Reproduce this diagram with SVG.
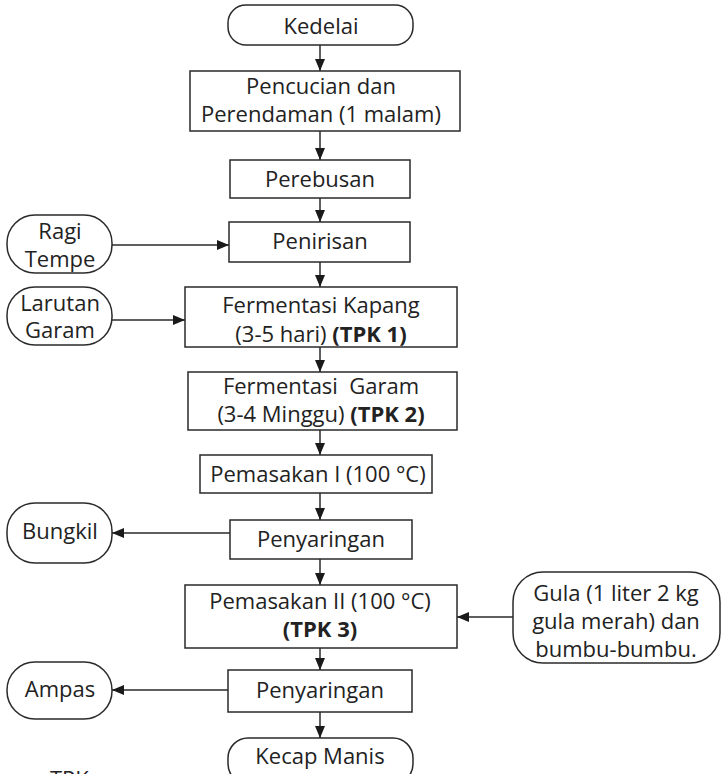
<svg xmlns="http://www.w3.org/2000/svg" width="722" height="774" viewBox="0 0 722 774">
<defs>
<style>
.box{fill:#fff;stroke:#2a2a2a;stroke-width:1.5}
.t{font-family:"Open Sans","Noto Sans",sans-serif;font-size:22px;fill:#222;text-anchor:middle}
.b{font-weight:bold}
.c{stroke:#2a2a2a;stroke-width:1.5;fill:none}
</style>
<marker id="ah" viewBox="0 0 12 10" refX="12" refY="5" markerWidth="12" markerHeight="10" markerUnits="userSpaceOnUse" orient="auto">
<path d="M0,0 L12,5 L0,10 Z" fill="#1a1a1a"/>
</marker>
</defs>
<rect width="722" height="774" fill="#fff"/>
<g id="connectors">
<line class="c" x1="320" y1="45" x2="320" y2="71" marker-end="url(#ah)"/>
<line class="c" x1="320" y1="131" x2="320" y2="160" marker-end="url(#ah)"/>
<line class="c" x1="320" y1="198" x2="320" y2="222" marker-end="url(#ah)"/>
<line class="c" x1="320" y1="262" x2="320" y2="287" marker-end="url(#ah)"/>
<line class="c" x1="320" y1="347" x2="320" y2="372" marker-end="url(#ah)"/>
<line class="c" x1="320" y1="430" x2="320" y2="455" marker-end="url(#ah)"/>
<line class="c" x1="320" y1="493" x2="320" y2="520" marker-end="url(#ah)"/>
<line class="c" x1="320" y1="559" x2="320" y2="585" marker-end="url(#ah)"/>
<line class="c" x1="320" y1="648" x2="320" y2="670" marker-end="url(#ah)"/>
<line class="c" x1="320" y1="712" x2="320" y2="738" marker-end="url(#ah)"/>
<line class="c" x1="112" y1="245" x2="229" y2="245" marker-end="url(#ah)"/>
<line class="c" x1="112" y1="320" x2="185" y2="320" marker-end="url(#ah)"/>
<line class="c" x1="230" y1="533" x2="112" y2="533" marker-end="url(#ah)"/>
<line class="c" x1="513" y1="617" x2="457" y2="617" marker-end="url(#ah)"/>
<line class="c" x1="228" y1="690" x2="112" y2="690" marker-end="url(#ah)"/>
</g>
<g id="kedelai"><rect class="box" x="228" y="5" width="185" height="40" rx="18"/><text class="t" x="321" y="34">Kedelai</text></g>
<g id="pencucian"><rect class="box" x="190" y="71" width="270" height="60"/><text class="t" x="321" y="94">Pencucian dan</text><text class="t" x="321" y="122">Perendaman (1 malam)</text></g>
<g id="perebusan"><rect class="box" x="230" y="160" width="180" height="38"/><text class="t" x="320" y="187">Perebusan</text></g>
<g id="penirisan"><rect class="box" x="229" y="222" width="181" height="40"/><text class="t" x="320" y="249">Penirisan</text></g>
<g id="ragi"><rect class="box" x="7" y="215" width="105" height="58" rx="28"/><text class="t" x="60" y="239">Ragi</text><text class="t" x="60" y="267">Tempe</text></g>
<g id="fermkapang"><rect class="box" x="185" y="287" width="272" height="60"/><text class="t" x="321" y="313">Fermentasi Kapang</text><text class="t" x="321" y="342">(3-5 hari) <tspan class="b">(TPK 1)</tspan></text></g>
<g id="larutan"><rect class="box" x="7" y="287" width="105" height="58" rx="28"/><text class="t" x="60" y="311">Larutan</text><text class="t" x="60" y="338">Garam</text></g>
<g id="fermgaram"><rect class="box" x="188" y="372" width="269" height="58"/><text class="t" x="321" y="394" xml:space="preserve">Fermentasi  Garam</text><text class="t" x="321" y="422">(3-4 Minggu) <tspan class="b">(TPK 2)</tspan></text></g>
<g id="pemasakan1"><rect class="box" x="200" y="455" width="232" height="38"/><text class="t" x="318" y="482">Pemasakan I (100 °C)</text></g>
<g id="penyaringan1"><rect class="box" x="230" y="520" width="182" height="39"/><text class="t" x="321" y="547">Penyaringan</text></g>
<g id="bungkil"><rect class="box" x="7" y="503" width="105" height="60" rx="28"/><text class="t" x="60" y="539">Bungkil</text></g>
<g id="pemasakan2"><rect class="box" x="185" y="585" width="272" height="63"/><text class="t" x="320" y="609">Pemasakan II (100 °C)</text><text class="t b" x="320" y="637">(TPK 3)</text></g>
<g id="gula"><rect class="box" x="513" y="572" width="207" height="91" rx="30"/><text class="t" x="616" y="601">Gula (1 liter 2 kg</text><text class="t" x="616" y="629">gula merah) dan</text><text class="t" x="616" y="657">bumbu-bumbu.</text></g>
<g id="penyaringan2"><rect class="box" x="228" y="670" width="184" height="42"/><text class="t" x="320" y="698">Penyaringan</text></g>
<g id="ampas"><rect class="box" x="7" y="662" width="105" height="57" rx="28"/><text class="t" x="60" y="697">Ampas</text></g>
<g id="kecap"><rect class="box" x="228" y="738" width="185" height="46" rx="20"/><text class="t" x="320" y="764">Kecap Manis</text></g>
<text class="t" x="50" y="787" style="text-anchor:start">TPK</text>
</svg>
